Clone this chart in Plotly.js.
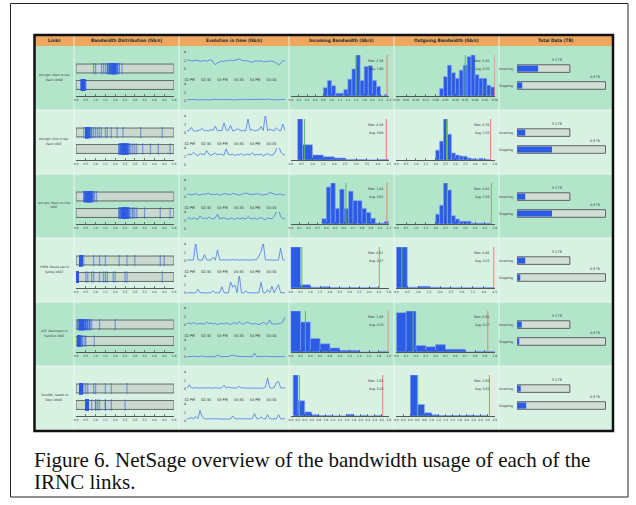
<!DOCTYPE html>
<html>
<head>
<meta charset="utf-8">
<script src="https://cdn.plot.ly/plotly-3.0.1.min.js"></script>
<style>
html,body{margin:0;padding:0;background:#fff;}
#chart{width:636px;height:505px;}
</style>
</head>
<body>
<div id="chart"></div>
<script>
// ---------------- DATA ----------------
const headers = ["Links","Bandwidth Distribution (Gb/s)","Evolution in time (Gb/s)","Incoming Bandwidth (Gb/s)","Outgoing Bandwidth (Gb/s)","Total Data (TB)"];
const linkLine1 = ["AmLight: Miami to Sao","AmLight: Chile to Sao","AmLight: Miami to Chile","PIREN: Mauna Lani to","ACE: Washington to","TransPAC: Seattle to"];
const linkLine2 = ["Paulo 100GE","Paulo 10GE","10GE","Sydney 40GE","Frankfurt 30GE","Tokyo 100GE"];
const directions = ["Outgoing","Incoming"];

// time axis
const timeStart = "2017-06-01 13:55";
const timeEnd = "2017-06-01 16:55";
const timeTickVals = ["2017-06-01 14:00","2017-06-01 14:30","2017-06-01 15:00","2017-06-01 15:30","2017-06-01 16:00","2017-06-01 16:30"];
const timeTickText = ["02 PM","02:30","03 PM","03:30","04 PM","04:30"];
const rateTicks = [0,2,4];

// rate samples (Gb/s) over the time window, per link
const inRate1 = [2.0,2.1,1.9,2.0,1.95,2.05,1.8,1.9,2.0,1.85,1.95,2.2,1.6,1.0,1.4,1.7,1.9,1.75,2.0,1.9,2.1,1.95,2.05,2.2,2.35,2.1,1.9,2.0,1.8,1.7,1.6,1.85,1.9,1.8,1.95,1.7,1.75,1.85,1.8,1.9,1.65,1.5,0.9,1.3,1.9,2.0];
const outRate1 = [0.35,0.38,0.32,0.4,0.36,0.3,0.34,0.42,0.38,0.33,0.28,0.36,0.39,0.45,0.37,0.31,0.26,0.35,0.38,0.41,0.36,0.33,0.3,0.37,0.4,0.38,0.44,0.36,0.34,0.29,0.32,0.38,0.42,0.39,0.35,0.33,0.37,0.48,0.5,0.36,0.3,0.24,0.33,0.37,0.35,0.38];
const inRate2 = [0.5,0.6,1.3,0.5,0.4,0.6,0.7,1.1,0.5,0.6,0.5,0.8,0.6,1.6,0.5,0.6,0.5,2.4,0.7,0.6,1.8,0.5,0.6,1.0,0.7,0.5,0.6,0.5,3.3,0.6,0.8,0.5,0.6,0.7,1.5,0.6,4.4,0.5,0.9,0.6,0.5,1.2,0.7,0.5,2.1,0.6];
const outRate2 = [2.3,2.6,2.4,3.0,2.5,2.2,2.7,2.5,2.4,3.4,2.6,2.3,2.5,2.8,2.4,2.6,2.5,2.3,3.8,2.5,2.4,2.6,2.2,2.5,2.4,2.7,2.3,2.5,2.6,2.4,2.9,2.3,2.5,2.4,2.6,2.2,2.5,2.7,2.4,2.3,2.6,4.2,4.8,3.1,2.5,2.4];
const inRate3 = [0.6,0.7,0.5,0.65,0.8,0.55,0.45,0.7,0.6,0.75,0.9,0.5,0.65,0.6,0.7,0.4,0.55,0.8,0.7,0.65,0.6,0.85,0.75,0.5,0.45,0.6,0.7,0.95,0.8,0.55,0.65,0.6,0.7,0.75,0.5,0.45,0.6,0.7,1.05,0.85,0.6,0.55,0.65,0.7,0.4,0.6];
const outRate3 = [2.4,2.7,2.3,2.6,2.5,2.2,3.1,2.5,2.6,2.4,2.8,2.5,2.3,2.6,3.5,2.4,2.5,2.7,2.4,2.3,2.6,2.5,2.2,2.7,2.4,2.5,2.6,2.3,2.9,2.5,2.4,2.6,2.3,2.5,2.7,2.4,2.2,2.6,2.5,2.4,3.0,4.3,4.8,2.9,2.5,2.4];
const inRate4 = [0.2,0.3,0.2,0.3,4.5,0.3,0.2,0.2,1.5,0.3,0.2,0.2,0.9,0.2,2.6,0.3,0.2,0.3,0.2,0.3,0.2,0.4,0.2,0.3,0.2,0.3,0.2,0.3,0.2,0.2,0.3,0.2,0.3,1.2,2.2,4.3,0.3,0.2,0.3,0.2,0.2,0.3,0.2,3.0,0.3,0.2];
const outRate4 = [0.1,0.05,0.1,0.05,0.1,0.9,0.1,0.05,0.1,0.05,0.1,0.1,0.6,0.05,0.1,0.1,1.5,0.1,0.05,0.1,2.6,1.4,1.9,0.1,4.4,0.1,0.05,0.5,0.1,0.05,0.1,0.05,0.1,0.1,2.5,0.1,0.05,0.8,0.1,1.6,0.1,1.2,2.0,0.1,0.05,0.1];
const inRate5 = [0.3,0.5,0.2,0.6,0.3,0.2,0.4,0.3,0.2,0.7,0.3,0.5,0.2,0.4,0.1,0.3,0.4,0.2,0.5,0.3,0.1,0.4,0.6,0.2,0.8,0.3,0.2,0.5,0.7,0.3,0.2,0.4,0.3,0.1,0.3,0.6,0.3,0.2,1.2,0.2,0.3,0.2,0.3,0.4,0.7,2.0];
const outRate5 = [0.1,0.15,0.1,0.2,0.12,0.1,0.15,0.3,0.1,0.12,0.1,0.2,0.15,0.1,0.45,0.2,0.1,0.12,0.1,0.15,0.35,0.5,0.3,0.2,0.1,0.12,0.15,0.1,0.2,0.1,0.12,0.93,0.1,0.15,0.1,0.12,0.2,0.1,0.15,0.1,0.12,0.25,0.1,0.15,0.1,0.2];
const inRate6 = [0.2,1.0,0.3,0.2,0.3,0.2,0.2,0.3,0.2,0.2,0.3,0.2,0.2,0.3,0.2,0.2,0.3,0.9,0.2,0.5,0.3,0.2,0.2,0.3,0.6,0.2,0.3,0.2,0.2,0.3,0.2,0.2,0.3,0.2,0.3,0.2,0.4,2.6,0.3,0.2,0.3,1.5,1.8,0.3,0.2,0.3];
const outRate6 = [0.5,0.6,0.8,0.5,1.1,0.6,2.5,1.0,0.6,0.5,0.6,0.5,0.6,0.5,0.6,0.5,0.5,0.6,0.5,0.6,0.5,1.2,0.6,0.5,0.6,0.5,0.6,0.5,0.6,0.5,0.6,1.8,0.6,0.5,1.0,0.6,0.5,1.5,0.6,0.5,0.6,0.5,1.5,0.6,0.5,0.6];

// histograms: bin edges (Gb/s) and relative counts
const inEdges1 = [0.8,0.9,1.0,1.1,1.2,1.3,1.4,1.5,1.6,1.7,1.8,1.9,2.0,2.1,2.2,2.3,2.36];
const inCounts1 = [20,38,25,7,7,16,41,66,100,38,72,74,38,23,0,4];
const outEdges1 = [0.22,0.24,0.26,0.28,0.30,0.32,0.34,0.36,0.38,0.40,0.42,0.44,0.46,0.48,0.50];
const outCounts1 = [18,47,75,57,43,63,75,96,100,52,43,43,26,22];
const inEdges2 = [0.32,0.55,1.0,1.5,2.0,2.5,3.0,3.5,4.0,4.5];
const inCounts2 = [100,37,12,8,5,1.5,1,0,1];
const outEdges2 = [2.0,2.2,2.4,2.6,2.8,3.0,3.2,3.4,3.6,3.8,4.0,4.2,4.4,4.6,4.8];
const outCounts2 = [24,46,100,63,17,12,10,9,5,3,2,4,2,1];
const inEdges3 = [0.35,0.40,0.45,0.50,0.55,0.60,0.65,0.70,0.75,0.80,0.85,0.90,0.95,1.00,1.05,1.10];
const inCounts3 = [13,90,100,38,85,38,80,57,57,38,28,14,2,2,6];
const outEdges3 = [2.0,2.2,2.4,2.6,2.8,3.0,3.2,3.4,3.6,3.8,4.0,4.2,4.4,4.6,4.8];
const outCounts3 = [24,46,100,83,20,12,7,7,7,2,2,2,2,2];
const inEdges4 = [0.0,0.5,1.0,1.5,2.0,2.5,3.0,3.5,4.0,4.5];
const inCounts4 = [100,8,2,3,1,0.5,1,0.5,1];
const outEdges4 = [0.0,0.5,1.0,1.5,2.0,2.5,3.0,3.5,4.0,4.5];
const outCounts4 = [100,2,4,2,1,0.5,0.5,0.5,1];
const inEdges5 = [0.0,0.2,0.4,0.6,0.8,1.0,1.2,1.4,1.6,1.8,2.0];
const inCounts5 = [100,73,33,20,10,4,4,0,0,1.5];
const outEdges5 = [0.0,0.1,0.2,0.3,0.4,0.5,0.6,0.7,0.8,0.9,1.0];
const outCounts5 = [96,100,16,13,18,7,7,0,1.5,1.5];
const inEdges6 = [0.07,0.21,0.4,0.6,0.8,1.0,1.2,1.4,1.6,1.8,2.0,2.2,2.4,2.6];
const inCounts6 = [100,37,10,3,1,1,0,0,4,0,1,0,1];
const outEdges6 = [0.4,0.6,0.8,1.0,1.2,1.4,1.6,1.8,2.0,2.2,2.4,2.6];
const outCounts6 = [100,28,8,3,1,1,1,1,2,1,1];

// histogram axes, max and average values
const inAxisMax = [2.4,4.5,1.1,5.0,2.0,2.8];
const inTickStep = [0.2,0.5,0.1,0.5,0.2,0.2];
const outAxisMax = [0.5,5.0,5.0,4.5,1.0,2.8];
const outTickStep = [0.05,0.5,0.5,0.5,0.1,0.2];
const inMax = [2.36,4.39,1.08,4.52,1.99,2.63];
const inAvg = [1.60,0.64,0.62,0.57,0.30,0.25];
const outMax = [0.50,4.79,4.83,4.46,0.93,2.65];
const outAvg = [0.35,2.55,2.59,0.25,0.17,0.61];

// total data (TB)
const inTB = [2.1,0.8,0.8,0.8,0.45,0.35];
const outTB = [0.5,3.5,3.5,0.3,0.2,0.9];
const totalInTB = 5.3;
const totalOutTB = 8.9;

// ---------------- DRAWING ----------------
const inRates = [inRate1,inRate2,inRate3,inRate4,inRate5,inRate6];
const outRates = [outRate1,outRate2,outRate3,outRate4,outRate5,outRate6];
const inEdges = [inEdges1,inEdges2,inEdges3,inEdges4,inEdges5,inEdges6];
const inCounts = [inCounts1,inCounts2,inCounts3,inCounts4,inCounts5,inCounts6];
const outEdges = [outEdges1,outEdges2,outEdges3,outEdges4,outEdges5,outEdges6];
const outCounts = [outCounts1,outCounts2,outCounts3,outCounts4,outCounts5,outCounts6];

const W = 636, H = 505;
const fx = p => p / W;
const fy = p => 1 - p / H;
const SANS = '"Liberation Sans Narrow", "DejaVu Sans Condensed", "Liberation Sans", Arial, sans-serif';
const SERIF = '"Liberation Serif", "Times New Roman", serif';
const BLUE = '#2d5ce4';
const LINEBLUE = '#4a79e8';
const DARKROW = '#b3e5cb';
const LIGHTROW = '#d8f1e3';
const rowTop = [46,110,174,238,302,366];
const rowH = 64;

function sampleTimes(n){
  const out = [];
  for (let i = 0; i < n; i++){
    const s = Math.round((13*60+55 + i*180/(n-1))*60);
    const hh = String(Math.floor(s/3600)).padStart(2,'0');
    const mm = String(Math.floor((s%3600)/60)).padStart(2,'0');
    const ss = String(s%60).padStart(2,'0');
    out.push('2017-06-01 ' + hh + ':' + mm + ':' + ss);
  }
  return out;
}

const traces = [];
const shapes = [];
const annotations = [];
const layout = {
  width: W, height: H,
  margin: {l:0, r:0, t:0, b:0},
  paper_bgcolor: '#ffffff',
  plot_bgcolor: 'rgba(0,0,0,0)',
  showlegend: false,
  barmode: 'overlay',
  font: {family: SANS, size: 4, color: '#333'},
  shapes: shapes,
  annotations: annotations
};

let nAx = 0;
function mkAxes(px0, px1, pyTop, pyBot, xo, yo){
  nAx++;
  const s = nAx === 1 ? '' : String(nAx);
  layout['xaxis' + s] = Object.assign({domain:[fx(px0), fx(px1)], anchor:'y' + s, showgrid:false, zeroline:false, fixedrange:true}, xo);
  layout['yaxis' + s] = Object.assign({domain:[fy(pyBot), fy(pyTop)], anchor:'x' + s, showgrid:false, zeroline:false, fixedrange:true}, yo);
  return {x:'x' + s, y:'y' + s};
}
function bottomAxis(max, step, fmt){
  return {range:[0, max], tick0:0, dtick:step, tickformat:fmt, showline:true, linecolor:'#333', linewidth:0.8,
          ticks:'inside', ticklen:2.5, tickwidth:0.6, tickcolor:'#333', tickangle:0,
          tickfont:{size:3.2, color:'#333', family:SANS}};
}

// outer figure frame
shapes.push({type:'rect', xref:'paper', yref:'paper', x0:fx(10.5), x1:fx(628), y0:fy(497), y1:fy(3.5), line:{color:'#222', width:1}, fillcolor:'rgba(0,0,0,0)', layer:'below'});
// header band
shapes.push({type:'rect', xref:'paper', yref:'paper', x0:fx(35), x1:fx(612), y0:fy(46), y1:fy(35.5), line:{width:0}, fillcolor:'#eea75e', layer:'below'});
// row backgrounds
for (let k = 0; k < 6; k++){
  shapes.push({type:'rect', xref:'paper', yref:'paper', x0:fx(35), x1:fx(612), y0:fy(rowTop[k] + rowH), y1:fy(rowTop[k]),
               line:{width:0}, fillcolor: k % 2 ? LIGHTROW : DARKROW, layer:'below'});
}
// column separators
[74,179,289,394,499].forEach(x => {
  shapes.push({type:'line', xref:'paper', yref:'paper', x0:fx(x), x1:fx(x), y0:fy(430), y1:fy(36), line:{color:'rgba(240,250,245,0.85)', width:1}, layer:'below'});
});
// row separators
for (let k = 1; k < 6; k++){
  shapes.push({type:'line', xref:'paper', yref:'paper', x0:fx(35), x1:fx(612), y0:fy(rowTop[k]), y1:fy(rowTop[k]), line:{color:'rgba(240,250,245,0.9)', width:1}, layer:'below'});
}

// header titles
const headerCenters = [54,126.5,234,341.5,446.5,555.5];
headers.forEach((h, i) => {
  annotations.push({xref:'paper', yref:'paper', x:fx(headerCenters[i]), y:fy(41), text:'<b>' + h + '</b>', showarrow:false,
                    xanchor:'center', yanchor:'middle', font:{family:SANS, size:4.7, color:'#2a2a2a'}});
});

for (let k = 0; k < 6; k++){
  const r = rowTop[k];

  // link name (two lines)
  annotations.push({xref:'paper', yref:'paper', x:fx(54), y:fy(r + 28.5), text:linkLine1[k], showarrow:false,
                    xanchor:'center', yanchor:'middle', font:{family:SANS, size:3.0, color:'#333'}});
  annotations.push({xref:'paper', yref:'paper', x:fx(54), y:fy(r + 33.5), text:linkLine2[k], showarrow:false,
                    xanchor:'center', yanchor:'middle', font:{family:SANS, size:3.0, color:'#333'}});

  // bandwidth distribution strips
  const sa = mkAxes(76, 174, r + 17, r + 50, bottomAxis(5, 0.5, '.1f'),
                    {type:'category', categoryorder:'array', categoryarray:directions, range:[-0.667, 1.333], visible:false});
  [0, 1].forEach(c => {
    shapes.push({type:'rect', xref:sa.x, yref:sa.y, x0:0, x1:5, y0:c - 0.27, y1:c + 0.27,
                 fillcolor:'#c9d9cf', line:{color:'#56605a', width:0.9}, layer:'below'});
  });
  traces.push({type:'scatter', mode:'markers', x:inRates[k], y:inRates[k].map(() => 'Incoming'), xaxis:sa.x, yaxis:sa.y,
               marker:{symbol:'line-ns', size:8.2, color:BLUE, line:{color:'rgba(43,90,228,0.5)', width:1.3}}, hoverinfo:'skip'});
  traces.push({type:'scatter', mode:'markers', x:outRates[k], y:outRates[k].map(() => 'Outgoing'), xaxis:sa.x, yaxis:sa.y,
               marker:{symbol:'line-ns', size:8.2, color:BLUE, line:{color:'rgba(43,90,228,0.5)', width:1.3}}, hoverinfo:'skip'});

  // evolution in time
  const yTickCommon = {tickvals:rateTicks, ticktext:rateTicks.map(String), ticks:'', showline:false, tickfont:{size:3.6, color:'#333', family:SANS}};
  const ta = mkAxes(187, 285, r + 6, r + 30,
                    {type:'date', range:[timeStart, timeEnd], tickvals:timeTickVals, ticktext:timeTickText, ticks:'', showline:false, tickangle:0,
                     tickfont:{size:3.8, color:'#333', family:SANS}},
                    Object.assign({range:[-1.65, 4]}, yTickCommon));
  traces.push({type:'scatter', mode:'lines', x:sampleTimes(inRates[k].length), y:inRates[k], xaxis:ta.x, yaxis:ta.y,
               line:{color:LINEBLUE, width:0.8}, hoverinfo:'skip'});
  const tb = mkAxes(187, 285, r + 38, r + 56,
                    {type:'date', range:[timeStart, timeEnd], showticklabels:false, ticks:'', showline:false},
                    Object.assign({range:[-0.2, 4]}, yTickCommon));
  traces.push({type:'scatter', mode:'lines', x:sampleTimes(outRates[k].length), y:outRates[k], xaxis:tb.x, yaxis:tb.y,
               line:{color:LINEBLUE, width:0.8}, hoverinfo:'skip'});

  // histograms
  const hists = [
    {edges:inEdges[k], counts:inCounts[k], max:inMax[k], avg:inAvg[k], axMax:inAxisMax[k], step:inTickStep[k], x0:290.7, x1:388.7, txt:385},
    {edges:outEdges[k], counts:outCounts[k], max:outMax[k], avg:outAvg[k], axMax:outAxisMax[k], step:outTickStep[k], x0:396.3, x1:494.7, txt:491}
  ];
  hists.forEach(hd => {
    const fmt = hd.step < 0.1 ? '.2f' : '.1f';
    const ha = mkAxes(hd.x0, hd.x1, r + 9, r + 50, bottomAxis(hd.axMax, hd.step, fmt),
                      {range:[0, Math.max.apply(null, hd.counts)], visible:false});
    const centers = hd.counts.map((_, i) => (hd.edges[i] + hd.edges[i + 1]) / 2);
    const widths = hd.counts.map((_, i) => hd.edges[i + 1] - hd.edges[i]);
    traces.push({type:'bar', x:centers, y:hd.counts, width:widths, xaxis:ha.x, yaxis:ha.y,
                 marker:{color:BLUE, line:{color:'#86a5f2', width:0.6}}, hoverinfo:'skip'});
    shapes.push({type:'line', xref:ha.x, yref:ha.y + ' domain', x0:hd.avg, x1:hd.avg, y0:0, y1:1, line:{color:'#5cb860', width:1}});
    shapes.push({type:'line', xref:ha.x, yref:ha.y + ' domain', x0:hd.max, x1:hd.max, y0:0, y1:1, line:{color:'#e58070', width:1}});
    annotations.push({xref:'paper', yref:'paper', x:fx(hd.txt), y:fy(r + 15), text:'Max: ' + hd.max.toFixed(2), showarrow:false,
                      xanchor:'right', yanchor:'middle', font:{family:SANS, size:3.4, color:'#333'}});
    annotations.push({xref:'paper', yref:'paper', x:fx(hd.txt), y:fy(r + 23), text:'Avg: ' + hd.avg.toFixed(2), showarrow:false,
                      xanchor:'right', yanchor:'middle', font:{family:SANS, size:3.4, color:'#333'}});
  });

  // total data
  const da = mkAxes(517, 606, r + 17, r + 45, {range:[-0.03, totalOutTB + 0.05], visible:false},
                    {type:'category', categoryorder:'array', categoryarray:directions, range:[-0.325, 1.33],
                     showticklabels:true, ticks:'', showline:false, ticklabelstandoff:3, tickfont:{size:3.4, color:'#333', family:SANS}});
  traces.push({type:'bar', orientation:'h', x:[totalOutTB, totalInTB], y:directions, width:0.45, xaxis:da.x, yaxis:da.y,
               marker:{color:'#cfded6', line:{color:'#555', width:0.9}}, hoverinfo:'skip'});
  traces.push({type:'bar', orientation:'h', x:[outTB[k], inTB[k]], y:directions, width:0.36, xaxis:da.x, yaxis:da.y,
               marker:{color:BLUE, line:{width:0}}, hoverinfo:'skip'});
  annotations.push({xref:da.x, yref:da.y, x:totalInTB, y:'Incoming', text:totalInTB.toFixed(1) + ' TB', showarrow:false,
                    xanchor:'right', yanchor:'bottom', xshift:-6, yshift:5, font:{family:SANS, size:3.4, color:'#333'}});
  annotations.push({xref:da.x, yref:da.y, x:totalOutTB, y:'Outgoing', text:totalOutTB.toFixed(1) + ' TB', showarrow:false,
                    xanchor:'right', yanchor:'bottom', xshift:-4, yshift:5, font:{family:SANS, size:3.4, color:'#333'}});
}

// dashboard border (drawn on top)
shapes.push({type:'rect', xref:'paper', yref:'paper', x0:fx(34.5), x1:fx(613), y0:fy(431), y1:fy(35), line:{color:'#111', width:2.5}, fillcolor:'rgba(0,0,0,0)'});

// caption
annotations.push({xref:'paper', yref:'paper', x:fx(31.5), y:fy(460), text:'Figure 6. NetSage overview of the bandwidth usage of each of the', showarrow:false,
                  xanchor:'left', yanchor:'middle', font:{family:SERIF, size:21, color:'#111'}});
annotations.push({xref:'paper', yref:'paper', x:fx(31.5), y:fy(482), text:'IRNC links.', showarrow:false,
                  xanchor:'left', yanchor:'middle', font:{family:SERIF, size:21, color:'#111'}});

Plotly.newPlot('chart', traces, layout, {staticPlot:true, displayModeBar:false});
</script>
</body>
</html>
